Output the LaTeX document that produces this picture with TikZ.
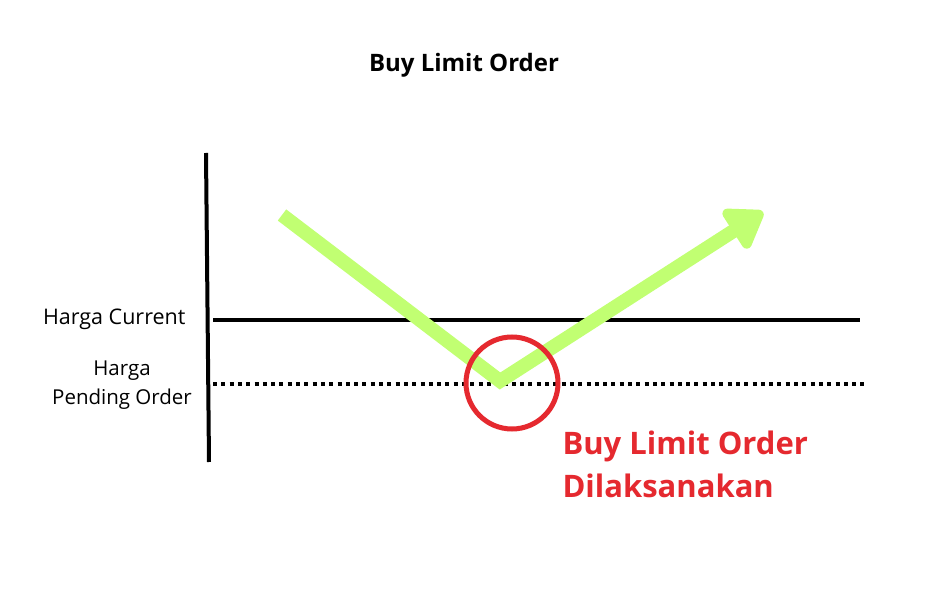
\documentclass[tikz,border=0pt]{standalone}
\usepackage{fontspec}
\setmainfont{Open Sans}
\usetikzlibrary{arrows.meta}
\definecolor{hijau}{HTML}{C1FF72}
\definecolor{merah}{HTML}{E5292F}

\begin{document}
\begin{tikzpicture}[x=1pt,y=-1pt]
    \useasboundingbox[fill=white] (0,0) rectangle (927,593);
    % judul
    \node[font=\fontsize{24}{28}\selectfont\bfseries] (judul) at (464,65) {Buy Limit Order};

    % sumbu dan garis harga
    \draw[line width=4pt] (206,153) -- (209,462);
    \draw[line width=4pt] (213,320) -- (860,320);
    \draw[line width=4pt,dash pattern=on 4pt off 4.3pt] (213,384) -- (864,384);
    \node[anchor=east,font=\fontsize{21.5}{24}\selectfont] (current) at (189,319) {Harga Current};
    \node[align=center,font=\fontsize{20.5}{29}\selectfont] (pending) at (122,385) {Harga\\ Pending Order};

    % pergerakan harga
    \draw[hijau,line width=14pt,line join=miter,-{Triangle[length=40pt,width=52pt,round]}]
        (282,215) -- (500,381) -- (763,212);

    % titik eksekusi
    \draw[merah,line width=5pt] (512,383) circle (46);
    \node[anchor=west,align=left,text=merah,font=\fontsize{31}{43}\selectfont\bfseries] (eksekusi) at (559,464)
        {Buy Limit Order\\ Dilaksanakan};
\end{tikzpicture}
\end{document}
